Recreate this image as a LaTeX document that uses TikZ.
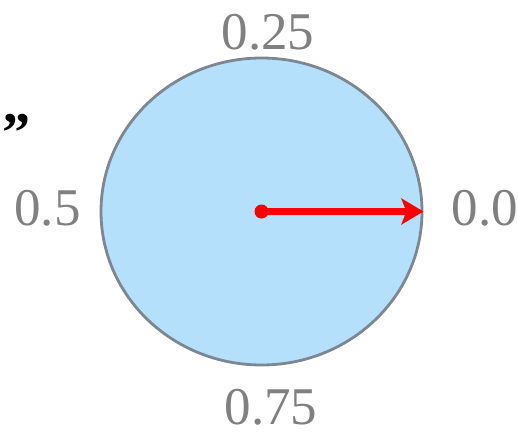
\documentclass[tikz,border=0pt]{standalone}
\usepackage{fontspec}
\setmainfont{Liberation Serif}
\usetikzlibrary{arrows.meta,shapes.geometric}
\definecolor{labelgray}{RGB}{128,128,128}
\definecolor{dialfill}{RGB}{180,224,252}
\definecolor{dialedge}{RGB}{125,135,145}
\definecolor{pointer}{RGB}{255,0,0}
\begin{document}
\begin{tikzpicture}[x=1pt,y=-1pt,
  lbl/.style={text=labelgray,inner sep=0pt,anchor=base,font=\fontsize{53}{60}\selectfont},
  dial/.style={ellipse,draw=dialedge,line width=2.8pt,fill=dialfill,minimum width=321pt,minimum height=307pt,inner sep=0pt},
  hub/.style={circle,fill=pointer,minimum size=14pt,inner sep=0pt},
  needle/.style={draw=pointer,line width=7pt,-{Stealth[length=22pt,width=26pt,inset=5pt]}}]
\useasboundingbox (0,0) rectangle (518,434);
\node[dial] (dial) at (261.5,211.5) {};
\node[hub] (hub) at (261.5,211.5) {};
\draw[needle] (hub.center) -- (dial.east);
\node[lbl] (q0) at (485,225) {0.0};
\node[lbl] (q25) at (268,49) {0.25};
\node[lbl] (q5) at (47.5,225) {0.5};
\node[lbl] (q75) at (271,424) {0.75};
\node[inner sep=0pt,anchor=base,font=\fontsize{56}{60}\selectfont\bfseries] (quote) at (16,151) {”};
\end{tikzpicture}
\end{document}
